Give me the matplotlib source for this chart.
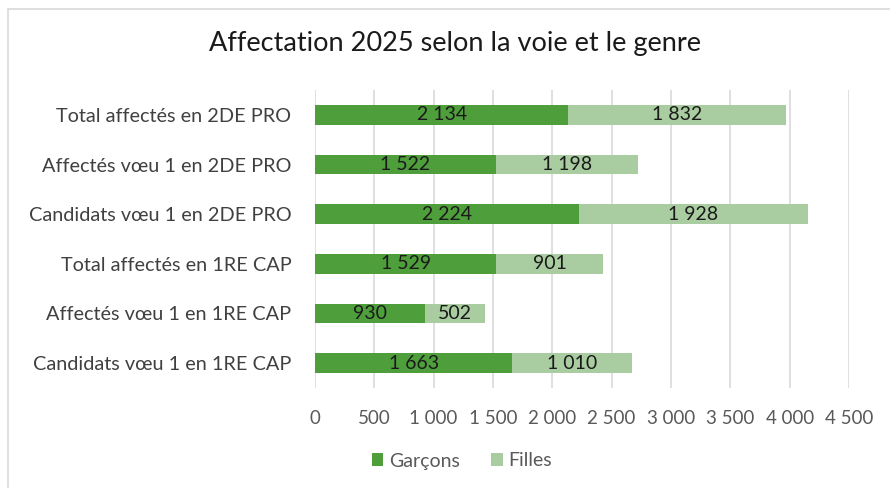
import matplotlib
matplotlib.use("Agg")
import matplotlib.pyplot as plt
from matplotlib.patches import Rectangle

plt.rcParams['font.family'] = ['Lato', 'DejaVu Sans']

categories = [
    "Candidats vœu 1 en 1RE CAP",
    "Affectés vœu 1 en 1RE CAP",
    "Total affectés en 1RE CAP",
    "Candidats vœu 1 en 2DE PRO",
    "Affectés vœu 1 en 2DE PRO",
    "Total affectés en 2DE PRO",
]
garcons = [1663, 930, 1529, 2224, 1522, 2134]
filles = [1010, 502, 901, 1928, 1198, 1832]
xticks = [0, 500, 1000, 1500, 2000, 2500, 3000, 3500, 4000, 4500]

dark = "#4f9e3c"
light = "#a9cca0"


def fmt(v):
    return f"{v:,}".replace(",", " ")


fig = plt.figure(figsize=(8.9, 4.88), dpi=100)
ax = fig.add_axes([315 / 890, 1 - 388 / 488, (849 - 315) / 890, 298 / 488])

# Outer chart frame
fig.add_artist(Rectangle((8 / 890, -0.05), 1.0, 1 - 9 / 488 + 0.05,
                         transform=fig.transFigure, fill=False,
                         edgecolor="#d9d9d9", linewidth=1.2))

y = list(range(len(categories)))
bh = 0.4
ax.barh(y, garcons, height=bh, color=dark, label="Garçons", zorder=3)
ax.barh(y, filles, left=garcons, height=bh, color=light, label="Filles", zorder=3)

for i in y:
    ax.text(garcons[i] / 2, i, fmt(garcons[i]), ha="center", va="center",
            fontsize=14, color="#1a1a1a", zorder=4)
    ax.text(garcons[i] + filles[i] / 2, i, fmt(filles[i]), ha="center", va="center",
            fontsize=14, color="#1a1a1a", zorder=4)

ax.set_xlim(0, 4500)
ax.set_ylim(-0.5, len(categories) - 0.5)
ax.set_xticks(xticks)
ax.set_xticklabels([fmt(t) for t in xticks], fontsize=13.5, color="#595959")
ax.set_yticks(y)
ax.set_yticklabels(categories, fontsize=14.3, color="#404040")
ax.tick_params(axis="both", length=0)
ax.tick_params(axis="x", pad=16)
ax.tick_params(axis="y", pad=17)
ax.grid(axis="x", color="#d9d9d9", linewidth=1.2, zorder=0)
for s in ax.spines.values():
    s.set_visible(False)

fig.text(455 / 890, 1 - 44 / 488, "Affectation 2025 selon la voie et le genre",
         ha="center", va="center", fontsize=19.5, color="#1a1a1a")

fig.legend(loc="center", bbox_to_anchor=(462 / 890, 1 - 461 / 488), ncol=2,
           frameon=False, fontsize=14, handlelength=0.6, handleheight=0.6,
           handletextpad=0.3, columnspacing=1.6, labelcolor="#595959")

fig.savefig("out.png", dpi=100)
